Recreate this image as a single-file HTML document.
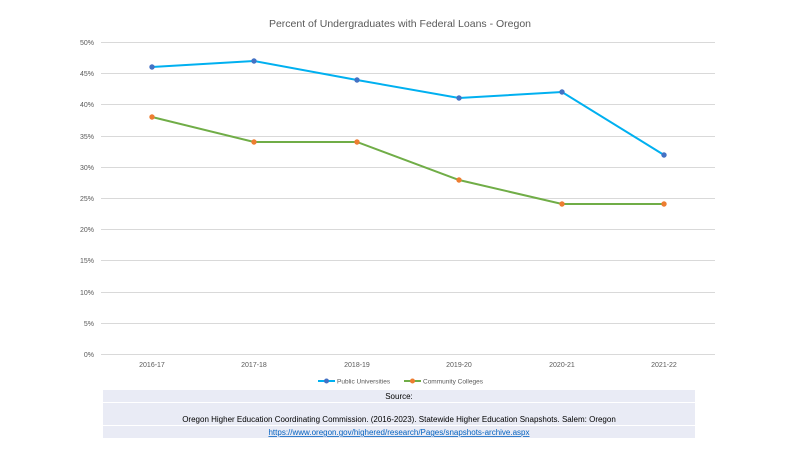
<!DOCTYPE html>
<html><head><style>
body{margin:0;width:800px;height:450px;background:#fff;overflow:hidden;font-family:"Liberation Sans",sans-serif;}
</style></head><body>
<svg width="800" height="450" style="position:absolute;left:0;top:0" font-family="Liberation Sans, sans-serif">
<text x="400" y="27" text-anchor="middle" font-size="10.5" fill="#595959">Percent of Undergraduates with Federal Loans - Oregon</text>
<g stroke="#d9d9d9" stroke-width="1">
<line x1="101" x2="715" y1="42.5" y2="42.5"/><line x1="101" x2="715" y1="73.5" y2="73.5"/>
<line x1="101" x2="715" y1="104.5" y2="104.5"/><line x1="101" x2="715" y1="136.5" y2="136.5"/>
<line x1="101" x2="715" y1="167.5" y2="167.5"/><line x1="101" x2="715" y1="198.5" y2="198.5"/>
<line x1="101" x2="715" y1="229.5" y2="229.5"/><line x1="101" x2="715" y1="260.5" y2="260.5"/>
<line x1="101" x2="715" y1="292.5" y2="292.5"/><line x1="101" x2="715" y1="323.5" y2="323.5"/>
<line x1="101" x2="715" y1="354.5" y2="354.5"/>
</g>
<g font-size="7" fill="#595959" text-anchor="end">
<text x="94" y="45">50%</text><text x="94" y="76">45%</text><text x="94" y="107">40%</text>
<text x="94" y="139">35%</text><text x="94" y="170">30%</text><text x="94" y="201">25%</text>
<text x="94" y="232">20%</text><text x="94" y="263">15%</text><text x="94" y="295">10%</text>
<text x="94" y="326">5%</text><text x="94" y="357">0%</text>
</g>
<g font-size="7" fill="#595959" text-anchor="middle">
<text x="152" y="367">2016-17</text><text x="254" y="367">2017-18</text><text x="357" y="367">2018-19</text>
<text x="459" y="367">2019-20</text><text x="562" y="367">2020-21</text><text x="664" y="367">2021-22</text>
</g>
<polyline fill="none" stroke="#00b0f0" stroke-width="2" points="152,67 254,61 357,80 459,98 562,92 664,155"/>
<g fill="#4472c4"><circle cx="152" cy="67" r="2.7"/><circle cx="254" cy="61" r="2.7"/><circle cx="357" cy="80" r="2.7"/><circle cx="459" cy="98" r="2.7"/><circle cx="562" cy="92" r="2.7"/><circle cx="664" cy="155" r="2.7"/></g>
<polyline fill="none" stroke="#70ad47" stroke-width="2" points="152,117 254,142 357,142 459,180 562,204 664,204"/>
<g fill="#ed7d31"><circle cx="152" cy="117" r="2.7"/><circle cx="254" cy="142" r="2.7"/><circle cx="357" cy="142" r="2.7"/><circle cx="459" cy="180" r="2.7"/><circle cx="562" cy="204" r="2.7"/><circle cx="664" cy="204" r="2.7"/></g>
<line x1="318" x2="335" y1="381" y2="381" stroke="#00b0f0" stroke-width="2"/><circle cx="326.5" cy="381" r="2.5" fill="#4472c4"/>
<text x="337" y="383.5" font-size="6.5" fill="#595959">Public Universities</text>
<line x1="404" x2="421" y1="381" y2="381" stroke="#70ad47" stroke-width="2"/><circle cx="412.5" cy="381" r="2.5" fill="#ed7d31"/>
<text x="423" y="383.5" font-size="6.5" fill="#595959">Community Colleges</text>
<rect x="103" y="390" width="592" height="12" fill="#e9ebf5"/>
<rect x="103" y="403" width="592" height="22" fill="#e9ebf5"/>
<rect x="103" y="426" width="592" height="12" fill="#e9ebf5"/>
<g font-size="8" text-anchor="middle">
<text x="399" y="399" fill="#000">Source:</text>
<text x="399" y="422" fill="#000">Oregon Higher Education Coordinating Commission. (2016-2023). Statewide Higher Education Snapshots. Salem: Oregon</text>
<text x="399" y="435" fill="#0563c1" text-decoration="underline">https://www.oregon.gov/highered/research/Pages/snapshots-archive.aspx</text>
</g>
</svg>
</body></html>
